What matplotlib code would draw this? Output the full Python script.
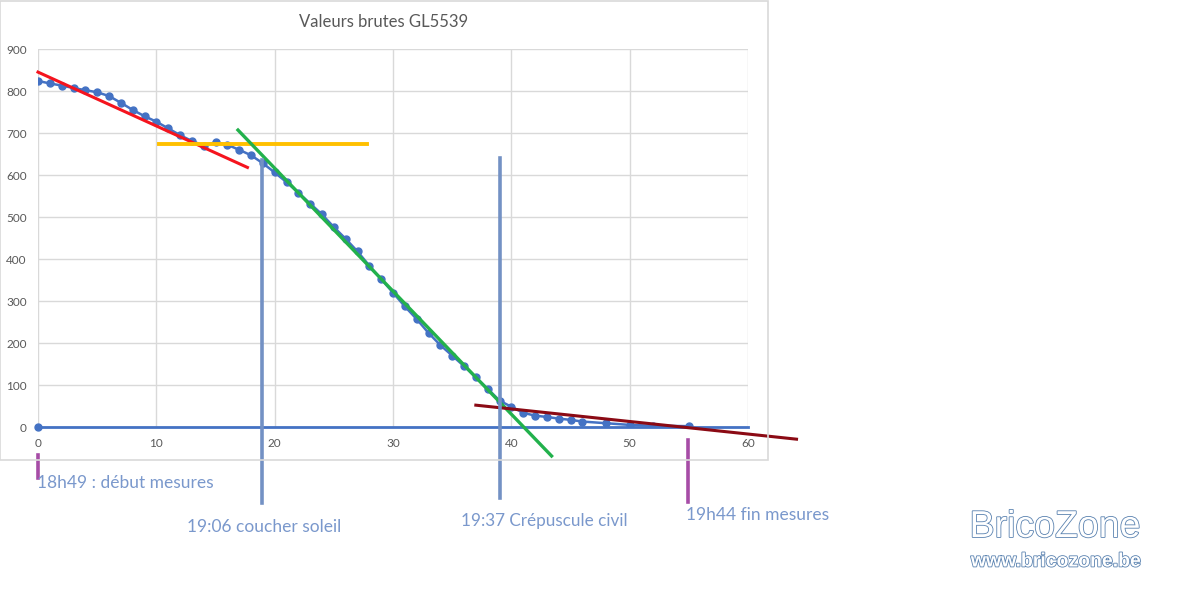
import numpy as np
import matplotlib
matplotlib.use('Agg')
import matplotlib.pyplot as plt
import matplotlib.patheffects as pe
from matplotlib.patches import Rectangle

# mesures brutes GL5539 (une mesure par minute environ)
minutes = [0, 1, 2, 3, 4, 5, 6, 7, 8, 9, 10, 11, 12, 13, 14, 15, 16, 17, 18, 19,
           20, 21, 22, 23, 24, 25, 26, 27, 28, 29, 30, 31, 32, 33, 34, 35, 36, 37, 38, 39,
           40, 41, 42, 43, 44, 45, 46, 48, 50, 52, 55]
valeurs = [824, 818, 813, 807, 802, 797, 788, 772, 755, 740, 727, 711, 695, 681, 670, 678, 672, 660, 647, 628,
           606, 583, 558, 532, 506, 476, 448, 418, 384, 352, 320, 287, 257, 224, 195, 170, 145, 118, 91, 63,
           48, 34, 27, 24, 20, 17, 13, 9, 5, 3, 2]

# tendances tracees a la main
rouge_x = [0, 17.7]
rouge_y = [845, 618]
jaune_x = [10.2, 27.8]
jaune_y = [675, 675]
vert_x = [16.9, 43.4]
vert_y = [707, -69]
bordeaux_x = [37.0, 64.1]
bordeaux_y = [52, -29]

# reperes horaires
repere_x = [18.9, 39.05]
repere_haut = [636, 640]
repere_bas = [-181, -169]
debut_fin_x = [0, 54.9]
debut_fin_haut = [-67, -31]
debut_fin_bas = [-121, -179]

xticks = [0, 10, 20, 30, 40, 50, 60]
yticks = [0, 100, 200, 300, 400, 500, 600, 700, 800, 900]

W, H = 1200, 606
fig = plt.figure(figsize=(W / 100, H / 100), dpi=100)
plt.rcParams['font.family'] = ['Lato', 'DejaVu Sans']

# cadre du graphique excel
fig.patches.append(Rectangle((0.0, 1 - 460 / H), 768 / W, 459 / H, transform=fig.transFigure,
                             fill=False, edgecolor='#d9d9d9', linewidth=1.2))

ax = fig.add_axes([38 / W, 1 - 427 / H, 710 / W, 378 / H])
ax.set_xlim(0, 60)
ax.set_ylim(0, 900)
ax.set_xticks(xticks)
ax.set_yticks(yticks)
ax.grid(True, color='#d9d9d9', linewidth=1)
ax.set_axisbelow(True)
for s in ax.spines.values():
    s.set_visible(False)
ax.tick_params(length=0, colors='#595959', labelsize=8.5, pad=8)

# axe horizontal en bleu + point (0,0)
ax.plot([0, 60], [0, 0], color='#4472c4', linewidth=2, clip_on=False)
ax.plot([0], [0], 'o', color='#4472c4', markersize=5, clip_on=False)

ax.plot(minutes, valeurs, '-o', color='#4472c4', linewidth=1.8, markersize=5, zorder=3)

ax.plot(rouge_x, rouge_y, color='#f5141e', linewidth=2.2, clip_on=False, zorder=4)
ax.plot(jaune_x, jaune_y, color='#ffc000', linewidth=2.8, clip_on=False, zorder=4)
ax.plot(vert_x, vert_y, color='#22b14c', linewidth=2.4, clip_on=False, zorder=4)
ax.plot(bordeaux_x, bordeaux_y, color='#8b0a14', linewidth=2.2, clip_on=False, zorder=4)

for x, h, b in zip(repere_x, repere_haut, repere_bas):
    ax.plot([x, x], [b, h], color='#7391c4', linewidth=2.6, clip_on=False, zorder=5)
for x, h, b in zip(debut_fin_x, debut_fin_haut, debut_fin_bas):
    ax.plot([x, x], [b, h], color='#a64ca6', linewidth=2.6, clip_on=False, zorder=5)

fig.text(384 / W, 1 - 22 / H, 'Valeurs brutes GL5539', ha='center', va='center',
         fontsize=12, color='#595959')

txt = '#7a98cc'
fig.text(37 / W, 1 - 483 / H, '18h49 : début mesures', ha='left', va='center', fontsize=12.5, color=txt)
fig.text(187 / W, 1 - 527 / H, '19:06 coucher soleil', ha='left', va='center', fontsize=12.5, color=txt)
fig.text(461 / W, 1 - 521 / H, '19:37 Crépuscule civil', ha='left', va='center', fontsize=12.3, color=txt)
fig.text(686 / W, 1 - 515 / H, '19h44 fin mesures', ha='left', va='center', fontsize=12.5, color=txt)

contour = [pe.Stroke(linewidth=1.2, foreground='#5a82b0'), pe.Normal()]
fig.text(1055 / W, 1 - 527 / H, 'BricoZone', ha='center', va='center', fontsize=27,
         family='Liberation Sans', color='white', path_effects=contour)
fig.text(1056 / W, 1 - 562 / H, 'www.bricozone.be', ha='center', va='center', fontsize=14,
         family='Liberation Sans', fontweight='bold', color='white', path_effects=contour)

fig.savefig('out.png', dpi=100)
